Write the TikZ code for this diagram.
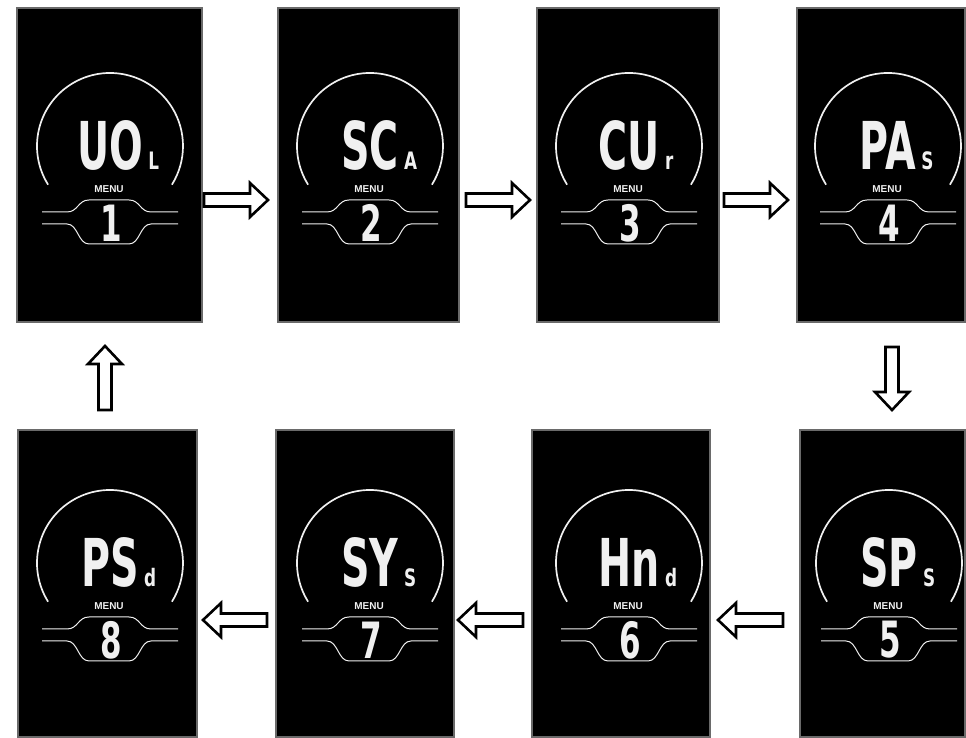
\documentclass[tikz,border=0pt]{standalone}
\usepackage{fontspec}
\setmainfont{Liberation Sans}
\newfontfamily\segfont{DejaVu Sans}
\usetikzlibrary{calc}
\definecolor{lcd}{HTML}{F0F0F0}
\definecolor{rim}{HTML}{6A6A6A}
\tikzset{
  panel/.style={draw=rim, line width=1.3pt, fill=black, inner sep=0pt, outer sep=0pt},
  arcline/.style={draw=lcd, line width=1.7pt},
  bandline/.style={draw=lcd, line width=1pt},
  bigtxt/.style={inner sep=0pt, text=lcd, text depth=0pt, font=\segfont\bfseries\fontsize{66}{66}\selectfont},
  smalltxt/.style={inner sep=0pt, text=lcd, text depth=0pt, font=\segfont\bfseries\fontsize{24}{24}\selectfont},
  digtxt/.style={inner sep=0pt, text=lcd, font=\segfont\bfseries\fontsize{50}{50}\selectfont},
  menutxt/.style={inner sep=0pt, text=lcd, font=\bfseries\fontsize{10}{10}\selectfont},
  blockarr/.style={draw=black, fill=white, line width=2.6pt, line join=miter},
}
\newcommand\lcdscreen[6]{%
  \begin{scope}[shift={(#2,#3)}]
    \draw[arcline] (1,42) ++(212:73) arc[start angle=212, end angle=-32, radius=73];
    \node[bigtxt, anchor=base] (big#1) at (1,18) {\scalebox{0.6}[1]{#4}};
    \node[smalltxt, anchor=base west] (sm#1) at ([xshift=5pt]big#1.base east) {\scalebox{0.7}[1]{#5}};
    \node[menutxt] (menu#1) at (0,-1) {MENU};
    \draw[bandline] (-67,-24) -- (-42,-24) .. controls (-31,-24) and (-31,-12) .. (-20,-12) -- (20,-12)
      .. controls (31,-12) and (31,-24) .. (42,-24) -- (69,-24);
    \draw[bandline] (-67,-36) -- (-42,-36) .. controls (-31,-36) and (-31,-56) .. (-20,-56) -- (20,-56)
      .. controls (31,-56) and (31,-36) .. (42,-36) -- (69,-36);
    \node[digtxt] (num#1) at (2,-35) {\scalebox{0.62}[1]{#6}};
  \end{scope}}
\newcommand\blockarrow[2]{%
  \coordinate (bn) at ($(#2)!18pt!(#1)$);
  \draw[blockarr] ($(#1)!6.5pt!90:(#2)$) -- ($(bn)!6.5pt!90:(#2)$) -- ($(bn)!17pt!90:(#2)$) -- (#2)
    -- ($(bn)!17pt!-90:(#2)$) -- ($(bn)!6.5pt!-90:(#2)$) -- ($(#1)!6.5pt!-90:(#2)$) -- cycle;}
\begin{document}
\begin{tikzpicture}[x=1pt, y=1pt]
  \useasboundingbox[fill=white] (0,0) rectangle (966,738);
  % panels
  \node[panel, minimum width=185pt, minimum height=314pt] (p1) at (109.5,573) {};
  \node[panel, minimum width=181pt, minimum height=314pt] (p2) at (368.5,573) {};
  \node[panel, minimum width=182pt, minimum height=314pt] (p3) at (628,573) {};
  \node[panel, minimum width=168pt, minimum height=314pt] (p4) at (881,573) {};
  \node[panel, minimum width=165pt, minimum height=307pt] (p5) at (882.5,154.5) {};
  \node[panel, minimum width=178pt, minimum height=307pt] (p6) at (621,154.5) {};
  \node[panel, minimum width=178pt, minimum height=307pt] (p7) at (365,154.5) {};
  \node[panel, minimum width=179pt, minimum height=307pt] (p8) at (107.5,154.5) {};
  % screens
  \lcdscreen{1}{109}{550}{UO}{L}{1}
  \lcdscreen{2}{369}{550}{SC}{A}{2}
  \lcdscreen{3}{628}{550}{CU}{r}{3}
  \lcdscreen{4}{887}{550}{PA}{S}{4}
  \lcdscreen{5}{888}{133}{SP}{S}{5}
  \lcdscreen{6}{628}{133}{Hn}{d}{6}
  \lcdscreen{7}{369}{133}{SY}{S}{7}
  \lcdscreen{8}{109}{133}{PS}{d}{8}
  % arrow end points
  \coordinate (a12s) at (204,538); \coordinate (a12e) at (268,538);
  \coordinate (a23s) at (466,538); \coordinate (a23e) at (530,538);
  \coordinate (a34s) at (724,538); \coordinate (a34e) at (788,538);
  \coordinate (a45s) at (892,391); \coordinate (a45e) at (892,328);
  \coordinate (a56s) at (783,118); \coordinate (a56e) at (718,118);
  \coordinate (a67s) at (523,118); \coordinate (a67e) at (458,118);
  \coordinate (a78s) at (267,118); \coordinate (a78e) at (203,118);
  \coordinate (a81s) at (105,328); \coordinate (a81e) at (105,392);
  \blockarrow{a12s}{a12e}
  \blockarrow{a23s}{a23e}
  \blockarrow{a34s}{a34e}
  \blockarrow{a45s}{a45e}
  \blockarrow{a56s}{a56e}
  \blockarrow{a67s}{a67e}
  \blockarrow{a78s}{a78e}
  \blockarrow{a81s}{a81e}
\end{tikzpicture}
\end{document}
